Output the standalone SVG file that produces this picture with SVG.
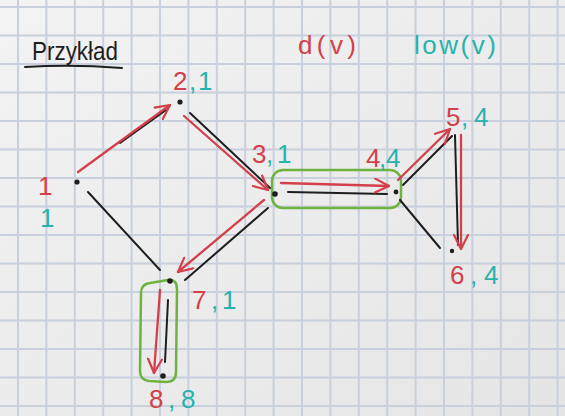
<svg xmlns="http://www.w3.org/2000/svg" width="565" height="416" viewBox="0 0 565 416">
<defs>
<linearGradient id="bg" x1="0" y1="0" x2="1" y2="1">
<stop offset="0" stop-color="#f3f3f3"/>
<stop offset="1" stop-color="#e5e5e5"/>
</linearGradient>
<marker id="ah" viewBox="0 0 16 16" refX="15" refY="8" markerWidth="16" markerHeight="16" markerUnits="userSpaceOnUse" orient="auto">
<path d="M1,1 L15,8 L1,15" fill="none" stroke="#d3404b" stroke-width="2.2" stroke-linecap="round" stroke-linejoin="round"/>
</marker>
</defs>
<style>
text{font-family:"Liberation Sans",Arial,sans-serif;font-size:26px}
.r{fill:#d3404b}
.t{fill:#27b3ad}
.k{fill:#1e1e1e}
.edge{stroke:#1e1e1e;stroke-width:2;fill:none;stroke-linecap:round}
.tree{stroke:#d3404b;stroke-width:2.3;fill:none;stroke-linecap:round;marker-end:url(#ah)}
.hl{stroke:#6eb33f;stroke-width:2.5;fill:none}
.dot{fill:#1e1e1e}
.grid{stroke:#c7d0dc;stroke-width:2;fill:none}
</style>
<rect width="565" height="416" fill="url(#bg)"/>
<path class="grid" d="M18,0V416M46.4,0V416M74.8,0V416M103.2,0V416M131.6,0V416M160,0V416M188.4,0V416M216.8,0V416M245.2,0V416M273.6,0V416M302,0V416M330.4,0V416M358.8,0V416M387.2,0V416M415.6,0V416M444,0V416M472.4,0V416M500.8,0V416M529.2,0V416M557.6,0V416M0,7H565M0,35.5H565M0,64H565M0,92.5H565M0,121H565M0,149.5H565M0,178H565M0,206.5H565M0,235H565M0,263.5H565M0,292H565M0,320.5H565M0,349H565M0,377.5H565M0,406H565"/>

<g id="title">
<text class="k" x="32" y="60" font-size="27" textLength="86" lengthAdjust="spacingAndGlyphs">Przykład</text>
<path d="M25,67 Q72,64 122,68" stroke="#1e1e1e" stroke-width="2" fill="none" stroke-linecap="round"/>
<text class="r" x="298" y="54" textLength="58">d(v)</text>
<text class="t" x="414" y="54" textLength="82">low(v)</text>
</g>

<g id="highlights">
<rect class="hl" x="272" y="170" width="129" height="38" rx="11"/>
<path class="hl" d="M150,283 L168,280 Q177,279 177,289 L176,372 Q176,382 166,382 L149,381 Q140,380 140,371 L141,293 Q141,284 150,283 Z"/>
</g>

<g id="connectors">
<line class="edge" x1="120" y1="143" x2="166" y2="110"/>
<line class="edge" x1="190" y1="113" x2="270" y2="188"/>
<line class="edge" x1="88" y1="192" x2="160" y2="270"/>
<line class="edge" x1="268" y1="208" x2="185" y2="280"/>
<line class="edge" x1="288" y1="192" x2="387" y2="194"/>
<line class="edge" x1="403" y1="185" x2="452" y2="136"/>
<line class="edge" x1="400" y1="200" x2="440" y2="248"/>
<line class="edge" x1="455" y1="135" x2="458" y2="245"/>
<line class="edge" x1="168" y1="300" x2="165" y2="362"/>
<path class="tree" d="M78,172 L170,105"/>
<path class="tree" d="M184,116 L268,190"/>
<path class="tree" d="M264,200 L178,272"/>
<path class="tree" d="M281,183 L389,186"/>
<path class="tree" d="M398,180 L450,129"/>
<path class="tree" d="M461,135 L461,249"/>
<path class="tree" d="M160,290 L154,373"/>
</g>

<g id="node1">
<circle class="dot" cx="77" cy="182" r="2.6"/>
<text class="r" x="38" y="195" font-size="29">1</text>
<text class="t" x="40" y="227" font-size="26">1</text>
</g>
<g id="node2">
<circle class="dot" cx="180" cy="102" r="2.6"/>
<text x="173" y="90" font-size="28"><tspan class="r">2</tspan><tspan class="t" x="189">,</tspan><tspan class="t" x="198">1</tspan></text>
</g>
<g id="node3">
<circle class="dot" cx="275" cy="194" r="2.8"/>
<text x="252" y="163"><tspan class="r">3</tspan><tspan class="t" x="266">,</tspan><tspan class="t" x="277">1</tspan></text>
</g>
<g id="node4">
<circle class="dot" cx="396" cy="192" r="2.4"/>
<text x="366" y="167" font-size="22"><tspan class="r">4</tspan><tspan class="t" x="379">,</tspan><tspan class="t" x="386">4</tspan></text>
</g>
<g id="node5">
<text x="446" y="126" font-size="25"><tspan class="r">5</tspan><tspan class="t" x="461">,</tspan><tspan class="t" x="474">4</tspan></text>
</g>
<g id="node6">
<circle class="dot" cx="452" cy="251" r="2.2"/>
<text x="450" y="284" font-size="27"><tspan class="r">6</tspan><tspan class="t" x="470">,</tspan><tspan class="t" x="484">4</tspan></text>
</g>
<g id="node7">
<circle class="dot" cx="170" cy="281" r="2.8"/>
<text x="192" y="309" font-size="25"><tspan class="r">7</tspan><tspan class="t" x="211">,</tspan><tspan class="t" x="222">1</tspan></text>
</g>
<g id="node8">
<circle class="dot" cx="163" cy="376" r="2.8"/>
<text x="149" y="408" font-size="26"><tspan class="r">8</tspan><tspan class="t" x="168">,</tspan><tspan class="t" x="181">8</tspan></text>
</g>
</svg>
